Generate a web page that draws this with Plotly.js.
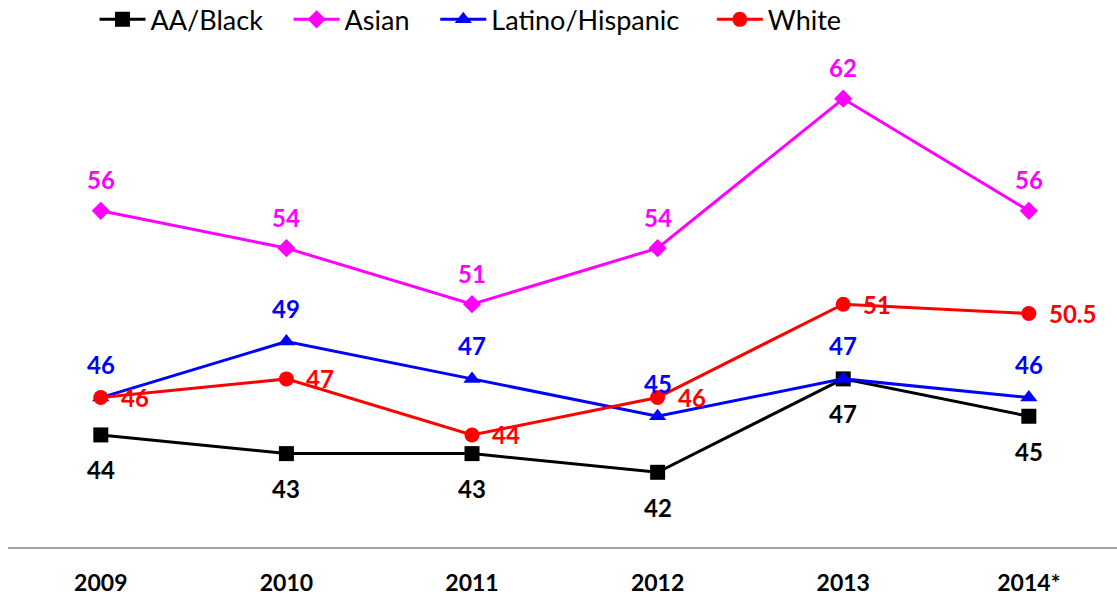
<!DOCTYPE html>
<html><head><meta charset="utf-8">
<script src="https://cdn.plot.ly/plotly-3.0.1.min.js"></script>
<style>html,body{margin:0;padding:0;background:#fff}</style>
</head><body>
<div id="chart" style="width:1117px;height:599px"></div>
<script>
const years = ['2009','2010','2011','2012','2013','2014*'];
const black = [44, 43, 43, 42, 47, 45];
const asian = [56, 54, 51, 54, 62, 56];
const latino = [46, 49, 47, 45, 47, 46];
const white = [46, 47, 44, 46, 51, 50.5];
const names = ['AA/Black', 'Asian', 'Latino/Hispanic', 'White'];

const FONT = 'Lato, "Open Sans", sans-serif';
const PAD = '\u00a0\u00a0\u00a0';
const series = [
  {name:names[0], y:black, color:'#000000', symbol:'square', size:15, lbl:{yshift:-35, xshift:0, xanchor:'center'}, pad:PAD},
  {name:names[1], y:asian, color:'#ff00ff', symbol:'diamond', size:14, lbl:{yshift:31, xshift:0, xanchor:'center'}, pad:PAD},
  {name:names[2], y:latino, color:'#0000ff', symbol:'triangle-up', size:15, lbl:{yshift:33, xshift:0, xanchor:'center'}, pad:PAD+'\u00a0'},
  {name:names[3], y:white, color:'#ff0000', symbol:'circle', size:15, lbl:{yshift:0, xshift:18, xanchor:'left'}, pad:''}
];

const traces = series.map(s => ({
  type:'scatter', mode:'lines+markers', name:s.name + s.pad, x:years, y:s.y,
  line:{color:s.color, width:3},
  marker:{color:s.color, symbol:s.symbol, size:s.size},
  hoverinfo:'none'
}));

const annotations = [];
series.forEach(s => {
  s.y.forEach((v,i) => {
    annotations.push({
      x: i, y: v, xref:'x', yref:'y', text: String(v), showarrow:false,
      xanchor: s.lbl.xanchor, yanchor:'middle', xshift:s.lbl.xshift, yshift:s.lbl.yshift,
      font:{family:FONT, size:24, color:s.color, weight:'bold'}
    });
  });
});

const layout = {
  width:1117, height:599,
  margin:{l:8, r:0, t:24, b:52, autoexpand:false},
  paper_bgcolor:'#fff', plot_bgcolor:'#fff',
  showlegend:true,
  legend:{orientation:'h', x:0.078, y:1.008, xanchor:'left', yanchor:'middle',
          font:{family:FONT, size:27, color:'#000'}, itemwidth:46, tracegroupgap:0,
          bgcolor:'rgba(0,0,0,0)'},
  xaxis:{type:'category', range:[-0.5, 5.475], showgrid:false, zeroline:false,
         showline:true, linecolor:'#a6a6a6', linewidth:2,
         ticks:'outside', ticklen:14, tickcolor:'rgba(0,0,0,0)',
         tickfont:{family:FONT, size:23, color:'#000', weight:'bold'}},
  yaxis:{range:[38, 66], showgrid:false, zeroline:false, showline:false, showticklabels:false, ticks:''},
  annotations: annotations
};

Plotly.newPlot('chart', traces, layout, {displayModeBar:false, staticPlot:true});
</script>
</body></html>
